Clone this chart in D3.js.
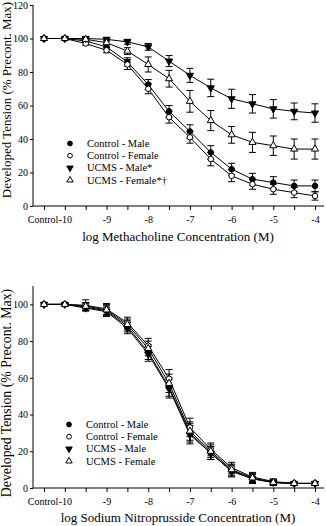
<!DOCTYPE html>
<html>
<head>
<meta charset="utf-8">
<script src="https://cdn.jsdelivr.net/npm/d3@7"></script>
<style>
	body{margin:0;background:#fff;}
	svg{display:block;}
	svg text{font-family:"Liberation Serif","Times New Roman",serif;fill:#000;}
</style>
</head>
<body>
<script>
(function(){
	//concentrations (log M), control point placed half a decade before -10
	var doses =[-10.5, -10, -9.5, -9, -8.5, -8, -7.5, -7, -6.5, -6, -5.5, -5, -4.5, -4];
	var doseLabels ={"-10.5":"Control", "-10":"-10", "-9":"-9", "-8":"-8", "-7":"-7", "-6":"-6", "-5":"-5", "-4":"-4"};

	var seriesNames =["Control - Male", "Control - Female", "UCMS - Male", "UCMS - Female"];
	var seriesSymbols =["dot", "ring", "down", "up"];

	//methacholine panel
	var mchCtrlMale    =[100, 100, 98.5, 95, 86, 72.5, 56.5, 44.5, 32, 22, 16, 14, 12, 12];
	var mchCtrlMaleErr =[0, 0.5, 1, 1.5, 2.5, 3, 3.5, 4, 4, 3.5, 3.5, 3.5, 3.5, 3.5];
	var mchCtrlFemale    =[100, 100, 97, 93, 84.5, 70, 53, 41, 28, 18, 13, 10, 8, 6];
	var mchCtrlFemaleErr =[0, 0.5, 1, 1.5, 3, 3, 3.5, 3.5, 4, 3.5, 3, 3, 3, 2.5];
	var mchUcmsMale    =[100, 100, 100, 99.5, 98, 95, 86.5, 78, 70.5, 64, 61, 58, 56.5, 55.5];
	var mchUcmsMaleErr =[0, 0, 0.5, 1, 1.5, 2, 3.3, 4.2, 5.2, 5.7, 5.5, 5.5, 5, 5.5];
	var mchUcmsFemale    =[100, 100, 99.5, 97.5, 92.5, 84.5, 76, 62.5, 51, 42.5, 38, 36, 34, 34];
	var mchUcmsFemaleErr =[0, 0, 0.5, 1, 2, 4.5, 5, 6.5, 6, 5, 6, 5.8, 6, 6];
	var mchLegend =["Control - Male", "Control - Female", "UCMS - Male*", "UCMS - Female*\u2020"];

	//sodium nitroprusside panel
	var snpCtrlMale    =[100, 100, 98.5, 96.5, 88, 74, 55, 30, 19, 9.5, 5, 3, 2.5, 2.5];
	var snpCtrlMaleErr =[0, 0.5, 2, 3, 3, 4, 5, 5, 3.5, 3, 2.5, 1.5, 1, 1];
	var snpCtrlFemale    =[100, 100, 99.5, 97.5, 90, 77.5, 59.5, 33, 21, 11, 6, 3.5, 2.5, 2.5];
	var snpCtrlFemaleErr =[0, 0.5, 3, 3, 3, 4, 5, 5, 3.5, 3, 2.5, 1.5, 1, 1];
	var snpUcmsMale    =[100, 100, 98, 96, 87, 73, 54, 29, 19, 9, 5, 3, 2.5, 2.5];
	var snpUcmsMaleErr =[0, 0.5, 1.5, 2.5, 3, 4, 5, 5, 3.5, 3, 2.5, 1.5, 1, 1];
	var snpUcmsFemale    =[100, 100, 99, 97, 89, 76, 57, 31, 20, 10, 5.5, 3, 2.5, 2.5];
	var snpUcmsFemaleErr =[0, 0.5, 2, 3, 3, 4, 5, 5, 3.5, 3, 2.5, 1.5, 1, 1];
	var snpLegend =["Control - Male", "Control - Female", "UCMS - Male", "UCMS - Female"];

	var svg =d3.select("body")
		.append("svg")
		.attr("width", 326)
		.attr("height", 526);

	var xScale =d3.scaleLinear()
		.domain([-10.5, -4])
		.range([44, 315]);

	drawPanel({
		values: [mchCtrlMale, mchCtrlFemale, mchUcmsMale, mchUcmsFemale],
		errors: [mchCtrlMaleErr, mchCtrlFemaleErr, mchUcmsMaleErr, mchUcmsFemaleErr],
		legend: mchLegend,
		yMax: 120, yTop: 5, yBottom: 206,
		yTicks: [0, 20, 40, 60, 80, 100, 120],
		xTitle: "log Methacholine Concentration (M)", xTitleY: 241,
		yTitleSize: 13, yTitleCenter: 100,
		legendX: 70, legendY: 143.5
	});

	drawPanel({
		values: [snpCtrlMale, snpCtrlFemale, snpUcmsMale, snpUcmsFemale],
		errors: [snpCtrlMaleErr, snpCtrlFemaleErr, snpUcmsMaleErr, snpUcmsFemaleErr],
		legend: snpLegend,
		yMax: 110, yTop: 286, yBottom: 488,
		yTicks: [0, 20, 40, 60, 80, 100],
		xTitle: "log Sodium Nitroprusside Concentration (M)", xTitleY: 522,
		yTitleSize: 13.8, yTitleCenter: 393,
		legendX: 69, legendY: 424.5
	});

	function symbolPath(kind, size){
		var type =(kind === "dot" || kind === "ring") ? d3.symbolCircle : d3.symbolTriangle;
		return d3.symbol().type(type).size(size)();
	}

	function drawSymbol(g, kind, x, y, size){
		g.append("path")
			.attr("d", symbolPath(kind, size))
			.attr("transform", "translate(" + x + "," + y + ")" + (kind === "down" ? " rotate(180)" : ""))
			.style("fill", (kind === "dot" || kind === "down") ? "#000" : "#fff")
			.style("stroke", "#000")
			.style("stroke-width", 1);
	}

	function drawPanel(p){
		var yScale =d3.scaleLinear()
			.domain([0, p.yMax])
			.range([p.yBottom, p.yTop]);

		var panel =svg.append("g");

		//axes
		var yAxis =d3.axisLeft(yScale)
			.tickValues(p.yTicks)
			.tickSize(3)
			.tickPadding(2)
			.tickFormat(d3.format("d"));

		var yg =panel.append("g")
			.attr("transform", "translate(33,0)")
			.call(yAxis);
		yg.select(".domain").remove();
		yg.append("line")
			.attr("x1", 0).attr("x2", 0)
			.attr("y1", p.yTop).attr("y2", p.yBottom)
			.style("stroke", "#000");

		var xAxis =d3.axisBottom(xScale)
			.tickValues(doses)
			.tickSize(4)
			.tickPadding(6)
			.tickFormat(function(d){
				var lab =doseLabels[String(d)];
				return lab ? lab : "";
			});

		var xg =panel.append("g")
			.attr("transform", "translate(0," + p.yBottom + ")")
			.call(xAxis);
		xg.select(".domain").remove();
		xg.append("line")
			.attr("x1", 33).attr("x2", 324)
			.attr("y1", 0).attr("y2", 0)
			.style("stroke", "#000");
		//"Control" sits right against "-10" in the original
		xg.selectAll(".tick text")
			.attr("dx", function(d){ return d === -10.5 ? -1.5 : 0; });

		panel.selectAll(".tick line").style("stroke", "#000");
		panel.selectAll(".tick text")
			.style("font-family", "Liberation Serif")
			.style("font-size", "10px")
			.style("fill", "#000");

		//axis titles
		panel.append("text")
			.attr("x", 178)
			.attr("y", p.xTitleY)
			.attr("text-anchor", "middle")
			.style("font-size", "13px")
			.text(p.xTitle);

		panel.append("text")
			.attr("transform", "translate(11," + p.yTitleCenter + ") rotate(-90)")
			.attr("text-anchor", "middle")
			.style("font-size", p.yTitleSize + "px")
			.text("Developed Tension (% Precont. Max)");

		//curves
		var line =d3.line()
			.x(function(d, i){ return xScale(doses[i]); })
			.y(function(d){ return yScale(d); });

		p.values.forEach(function(vals){
			panel.append("path")
				.datum(vals)
				.attr("d", line)
				.style("fill", "none")
				.style("stroke", "#000")
				.style("stroke-width", 1);
		});

		//error bars
		p.values.forEach(function(vals, s){
			var errs =p.errors[s];
			vals.forEach(function(v, i){
				if (!errs[i]) return;
				var x =xScale(doses[i]),
					yHi =yScale(v + errs[i]),
					yLo =yScale(v - errs[i]);
				panel.append("line")
					.attr("x1", x).attr("x2", x)
					.attr("y1", yHi).attr("y2", yLo)
					.style("stroke", "#000");
				[yHi, yLo].forEach(function(y){
					panel.append("line")
						.attr("x1", x - 3.5).attr("x2", x + 3.5)
						.attr("y1", y).attr("y2", y)
						.style("stroke", "#000");
				});
			});
		});

		//markers
		p.values.forEach(function(vals, s){
			var kind =seriesSymbols[s];
			vals.forEach(function(v, i){
				drawSymbol(panel, kind, xScale(doses[i]), yScale(v), kind === "dot" || kind === "ring" ? 24 : 22);
			});
		});

		//legend
		p.legend.forEach(function(name, s){
			var y =p.legendY + s * 12.2;
			drawSymbol(panel, seriesSymbols[s], p.legendX, y, 18);
			panel.append("text")
				.attr("x", p.legendX + 17)
				.attr("y", y + 3.5)
				.style("font-size", "10.5px")
				.text(name);
		});
	}
})();
</script>
</body>
</html>
